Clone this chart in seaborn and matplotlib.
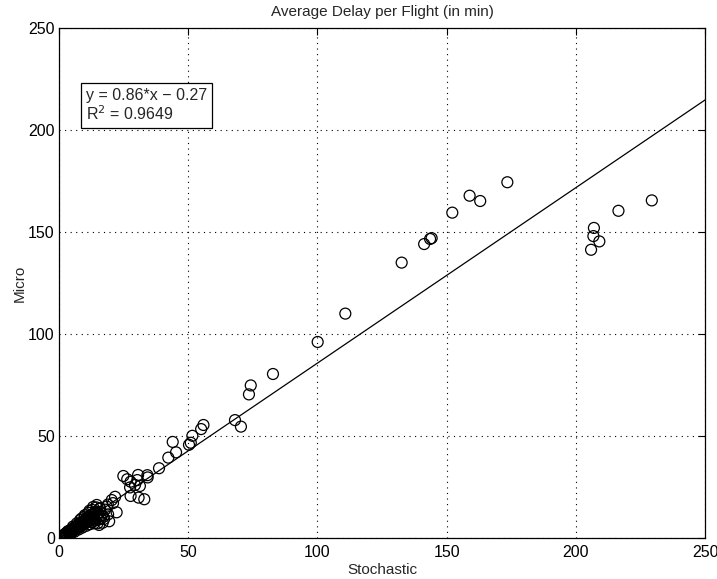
import numpy as np
import pandas as pd
import matplotlib
matplotlib.use("Agg")
import matplotlib.pyplot as plt
import seaborn as sns

# Average delay per flight (minutes), stochastic model vs. micro simulation
stochastic = [
    0.2, 0.5, 0.8, 1.0, 1.3, 1.6, 1.9, 2.2, 2.5, 2.7, 3.0, 3.3, 3.6, 3.9, 4.2, 4.4,
    4.7, 5.0, 5.3, 5.6, 5.9, 6.2, 6.5, 6.8, 7.1, 7.4, 7.7, 8.0, 8.3, 8.6, 8.9, 9.2,
    9.5, 9.8, 10.1, 10.4, 10.7, 11.0, 11.3, 11.6, 11.9, 12.2, 12.5, 12.8, 13.1, 13.4,
    13.7, 14.0, 14.3, 14.6, 14.9, 15.2, 15.5, 15.8, 16.2, 16.6, 16.9, 17.2, 14.6, 15.9,
    18.5, 20.4, 20.9, 21.7, 22.3,
    1.8, 2.9, 3.5, 4.6, 5.4, 6.0, 6.9, 7.6, 8.2, 9.0, 9.9, 10.6, 11.4, 12.0, 12.9,
    13.6, 14.5, 15.3, 16.0, 17.8, 18.9, 19.4, 17.5, 19.0, 13.2, 11.8, 10.0, 8.8,
    24.9, 26.4, 27.7, 29.4, 27.5, 30.3, 31.3, 27.7, 30.8, 33.0, 30.6, 34.3, 34.2,
    38.7, 42.3, 45.3, 44.0, 50.3, 51.0, 51.6, 55.0, 55.9, 68.1, 70.4, 73.5, 74.2,
    82.8, 100.1, 110.8, 132.6, 141.3, 143.6, 144.2, 152.2, 158.9, 163.0, 173.5,
    205.9, 206.8, 207.0, 209.1, 216.5, 229.4,
]
micro = [
    0.3, 0.2, 0.9, 0.4, 1.2, 0.8, 1.5, 1.1, 2.2, 1.6, 2.6, 1.9, 3.0, 2.4, 3.6, 2.8,
    4.1, 3.2, 4.6, 3.7, 5.2, 4.0, 5.7, 4.6, 6.2, 5.0, 6.8, 5.4, 7.3, 6.0, 7.9, 6.4,
    8.4, 7.0, 9.0, 7.4, 9.5, 8.0, 10.2, 8.4, 10.6, 9.0, 11.2, 7.8, 11.8, 9.4,
    12.3, 8.6, 13.0, 10.0, 7.2, 12.0, 6.4, 14.4, 9.6, 11.0, 7.5, 10.4, 16.2, 14.6,
    15.4, 18.6, 17.1, 20.2, 12.6,
    0.7, 1.3, 3.4, 2.1, 5.6, 3.1, 7.2, 4.2, 8.9, 5.1, 10.5, 6.0, 12.4, 6.8, 13.8,
    7.2, 15.0, 9.0, 12.8, 13.9, 16.4, 8.2, 9.4, 11.6, 15.2, 13.4, 11.2, 9.6,
    30.4, 28.8, 27.6, 26.0, 24.8, 28.4, 25.5, 20.6, 19.8, 19.0, 30.9, 29.7, 30.8,
    34.2, 39.4, 42.0, 47.1, 45.7, 46.7, 50.1, 53.4, 55.4, 57.8, 54.6, 70.4, 74.8,
    80.4, 96.1, 110.0, 135.0, 144.1, 146.6, 147.0, 159.5, 167.8, 165.2, 174.4,
    141.3, 148.0, 152.0, 145.4, 160.4, 165.5,
]

# Linear fit reported on the chart
fit_slope = 0.86
fit_intercept = -0.27
fit_r2 = 0.9649

x_ticks = [0, 50, 100, 150, 200, 250]
y_ticks = [0, 50, 100, 150, 200, 250]

df = pd.DataFrame({"Stochastic": stochastic, "Micro": micro})

sns.set_style("white")
plt.rcParams["font.family"] = ["Liberation Sans", "DejaVu Sans"]

fig = plt.figure(figsize=(7.17, 5.79), dpi=100)
ax = fig.add_axes([0.0823, 0.0708, 0.901, 0.8808])

sns.scatterplot(data=df, x="Stochastic", y="Micro", ax=ax, marker="o",
                facecolor="none", edgecolor="black", linewidth=0.9, s=62, zorder=3)

xs = np.array([x_ticks[0], x_ticks[-1]], dtype=float)
ax.plot(xs, fit_slope * xs + fit_intercept, color="black", linewidth=0.9, zorder=2)

ax.set_xlim(x_ticks[0], x_ticks[-1])
ax.set_ylim(y_ticks[0], y_ticks[-1])
ax.set_xticks(x_ticks)
ax.set_yticks(y_ticks)
ax.tick_params(direction="in", length=5, width=0.8, labelsize=11.5, pad=3,
               top=True, right=True, colors="black")
ax.tick_params(axis="x", pad=5)
ax.grid(True, linestyle=(0, (1, 4)), color="black", linewidth=0.8)
for sp in ax.spines.values():
    sp.set_visible(True)
    sp.set_color("black")
    sp.set_linewidth(0.9)

ax.set_title("Average Delay per Flight (in min)", fontsize=11, pad=9)
ax.set_xlabel("Stochastic", fontsize=11, labelpad=2)
ax.set_ylabel("Micro", fontsize=11, labelpad=1)

ax.text(10.5, 212, f"y = {fit_slope}*x \u2212 {abs(fit_intercept)}\nR$^2$ = {fit_r2}",
        fontsize=11.5, va="center", ha="left", linespacing=1.1, zorder=4,
        bbox=dict(boxstyle="square,pad=0.3", facecolor="white",
                  edgecolor="black", linewidth=0.9))

fig.savefig("out.png", dpi=100, facecolor="white")
